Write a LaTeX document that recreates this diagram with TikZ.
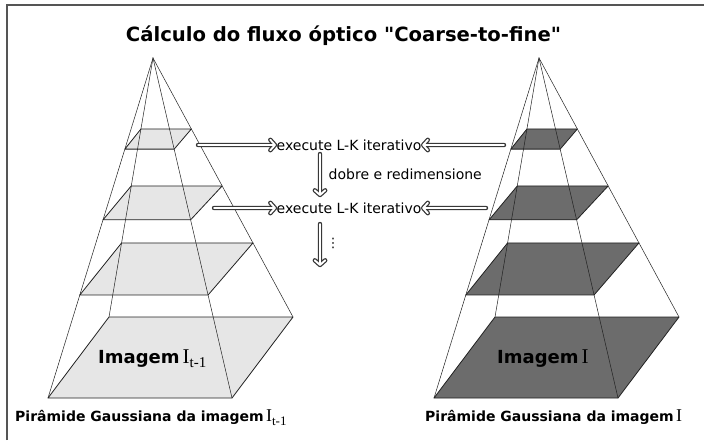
\documentclass[tikz,border=0pt]{standalone}
\usepackage{fontspec}
\setmainfont{DejaVu Sans}[Ligatures=TeXOff]
\newfontfamily\serifI{Liberation Serif}
\usetikzlibrary{calc}
\definecolor{lightL}{HTML}{E6E6E6}
\definecolor{darkL}{HTML}{6C6C6C}
\definecolor{edgeC}{HTML}{222222}
\definecolor{frameC}{HTML}{555555}
\definecolor{arrC}{HTML}{383838}
\tikzset{
  layer/.style={draw=edgeC, line width=0.8pt, line join=round},
  pedge/.style={draw=edgeC, line width=0.5pt},
  arrdark/.style={draw=arrC, line width=4.4pt, line cap=round, line join=round},
  arrwhite/.style={draw=white, line width=1.9pt, line cap=round, line join=round},
  lbl/.style={font=\fontsize{14}{16}\selectfont, inner sep=1.5pt},
  captxt/.style={font=\fontsize{14}{16}\selectfont\bfseries, inner sep=0pt},
  imgtxt/.style={font=\fontsize{18}{20}\selectfont\bfseries, inner sep=0pt},
}
\newcommand\SerI[3]{{\serifI\mdseries\fontsize{#1}{#1}\selectfont I}\raisebox{-#3pt}{\serifI\mdseries\fontsize{#2}{#2}\selectfont t-1}}
\newcommand\SerIonly[1]{{\serifI\mdseries\fontsize{#1}{#1}\selectfont I}}
\newcommand\dblarr[2]{%
  \draw[arrdark] (#1) -- (#2) ($(#2)!7pt!48:(#1)$) -- (#2) -- ($(#2)!7pt!-48:(#1)$);
  \draw[arrwhite] (#1) -- (#2) ($(#2)!7pt!48:(#1)$) -- (#2) -- ($(#2)!7pt!-48:(#1)$);}
\newcommand\drawpyr[2]{%
  \begin{scope}[xshift=#1]
    \coordinate (A) at (153,58);
    \coordinate (BL) at (48,398);
    \coordinate (BR) at (232,398);
    \coordinate (TR) at (293,317);
    \coordinate (TL) at (109,317);
    \foreach \tf/\tb in {0.268/0.274, 0.476/0.494, 0.697/0.714, 1/1}{
      \draw[layer, fill=#2] ($(A)!\tf!(BL)$) -- ($(A)!\tf!(BR)$) -- ($(A)!\tb!(TR)$) -- ($(A)!\tb!(TL)$) -- cycle;
    }
    \draw[pedge] (BL) -- (A) -- (BR);
    \draw[pedge] (TL) -- (A) -- (TR);
  \end{scope}}
\begin{document}
\begin{tikzpicture}[x=1pt,y=-1pt]
  \useasboundingbox (0,0) rectangle (704,440);
  \fill[white] (0,0) rectangle (704,440);
  % frame (top and left only)
  \draw[frameC, line width=1.5pt] (7,440) -- (7,5) -- (704,5);

  % title
  \node[anchor=base, inner sep=0pt, font=\fontsize{19.6}{22}\selectfont\bfseries] (title) at (343.5,41.5) {Cálculo do fluxo óptico "Coarse-to-fine"};

  % pyramids
  \drawpyr{0pt}{lightL}
  \drawpyr{386pt}{darkL}

  % image labels
  \node[imgtxt, anchor=base west] (imgL) at (98,363) {Imagem\,\SerI{21}{15}{4}};
  \node[imgtxt, anchor=base west] (imgR) at (497,363) {Imagem\,\SerIonly{21}};

  % captions
  \node[captxt, anchor=base west] (capL) at (15,421.5) {Pirâmide Gaussiana da imagem\,\SerI{18}{13}{3.5}};
  \node[captxt, anchor=base west] (capR) at (425,421.5) {Pirâmide Gaussiana da imagem\,\SerIonly{18}};

  % middle process
  \node[lbl, anchor=west] (e1) at (275,145) {execute L-K iterativo};
  \node[lbl, anchor=west] (e2) at (275,208) {execute L-K iterativo};
  \node[lbl, anchor=west] (dr) at (327,174) {dobre e redimensione};
  \node[inner sep=0pt, font=\fontsize{13}{14}\selectfont] (dots) at (333,243) {⋮};

  \coordinate (l1) at (198,145);
  \coordinate (r1) at (504,145);
  \coordinate (l2) at (214,208);
  \coordinate (r2) at (486,208);
  \coordinate (d1a) at (320,154);
  \coordinate (d1b) at (320,195);
  \coordinate (d2a) at (320,224);
  \coordinate (d2b) at (320,265);

  \dblarr{l1}{e1.west}
  \dblarr{r1}{e1.east}
  \dblarr{l2}{e2.west}
  \dblarr{r2}{e2.east}
  \dblarr{d1a}{d1b}
  \dblarr{d2a}{d2b}
\end{tikzpicture}
\end{document}
